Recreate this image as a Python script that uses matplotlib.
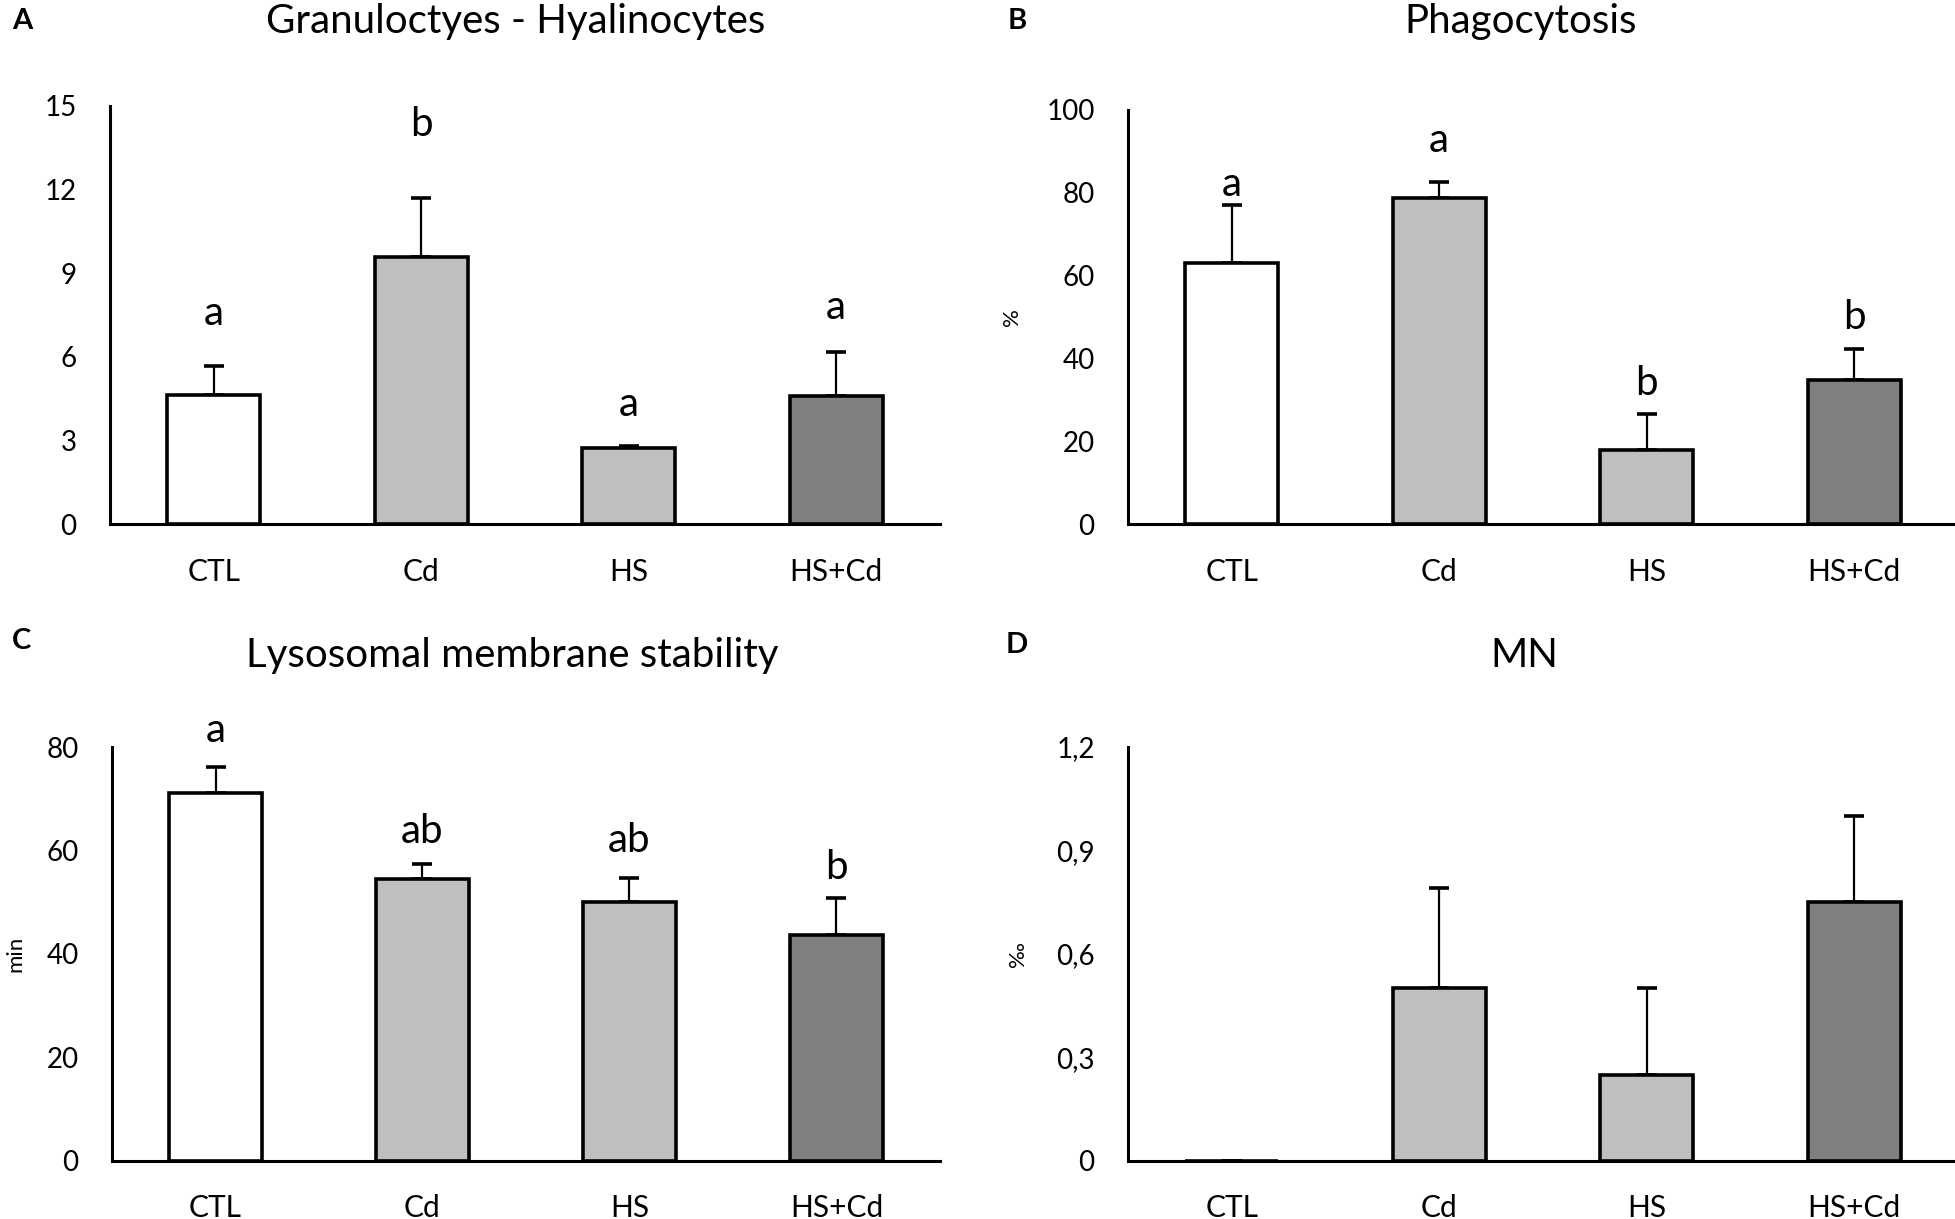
import numpy as np
import matplotlib
matplotlib.use('Agg')
import matplotlib.pyplot as plt
from matplotlib.ticker import FuncFormatter

plt.rcParams['font.family'] = ['Lato', 'DejaVu Sans']

groups = ['CTL', 'Cd', 'HS', 'HS+Cd']
colors = ['white', '#bfbfbf', '#bfbfbf', '#808080']

# A: granulocytes / hyalinocytes ratio
gh_mean = [4.63, 9.56, 2.73, 4.58]
gh_err = [1.02, 2.14, 0.07, 1.59]
gh_sig = ['a', 'b', 'a', 'a']
gh_sig_y = [7.15, 13.9, 3.86, 7.36]

# B: phagocytosis (%)
ph_mean = [62.9, 78.7, 17.8, 34.7]
ph_err = [14.0, 3.8, 8.7, 7.6]
ph_sig = ['a', 'a', 'b', 'b']
ph_sig_y = [79.2, 89.9, 31.2, 47.0]

# C: lysosomal membrane stability (min)
lms_mean = [71.2, 54.5, 50.0, 43.6]
lms_err = [5.0, 2.9, 4.6, 7.3]
lms_sig = ['a', 'ab', 'ab', 'b']
lms_sig_y = [80.9, 61.5, 59.8, 54.5]

# D: micronuclei (per mille)
mn_mean = [0.0, 0.50, 0.25, 0.75]
mn_err = [0.0, 0.29, 0.25, 0.25]


def draw_panel(ax, mean, err, ylim, yticks, ylabel=None, label_x=-0.13,
               sig=None, sig_y=None, fmt=None):
    x = np.arange(len(groups))
    ax.bar(x, mean, width=0.45, color=colors, edgecolor='black',
           linewidth=2.6, zorder=2)
    ax.errorbar(x, mean, yerr=[np.zeros(len(err)), err], fmt='none',
                ecolor='black', elinewidth=1.6, capsize=7, capthick=2.6,
                zorder=1)
    ax.set_xlim(-0.5, 3.5)
    ax.set_ylim(*ylim)
    ax.set_yticks(yticks)
    if fmt is not None:
        ax.yaxis.set_major_formatter(FuncFormatter(fmt))
    ax.set_xticks(x)
    ax.set_xticklabels(groups)
    ax.tick_params(axis='both', length=0)
    ax.tick_params(axis='y', pad=24, labelsize=20)
    ax.tick_params(axis='x', pad=24, labelsize=21.5)
    for s in ['top', 'right']:
        ax.spines[s].set_visible(False)
    for s in ['left', 'bottom']:
        ax.spines[s].set_linewidth(2.2)
    if ylabel:
        ax.set_ylabel(ylabel, fontsize=16)
        ax.yaxis.set_label_coords(label_x, 0.5)
    if sig is not None:
        for xi, s, yy in zip(x, sig, sig_y):
            ax.text(xi, yy, s, ha='center', va='baseline', fontsize=29,
                    clip_on=False)


fig = plt.figure(figsize=(19.55, 12.19), dpi=100)

ax1 = fig.add_axes([0.0563, 0.570, 0.4245, 0.3434])
ax2 = fig.add_axes([0.577, 0.570, 0.4245, 0.3400])
ax3 = fig.add_axes([0.0573, 0.0476, 0.4235, 0.3396])
ax4 = fig.add_axes([0.577, 0.0476, 0.4245, 0.3396])

draw_panel(ax1, gh_mean, gh_err, (0, 15), [0, 3, 6, 9, 12, 15],
           sig=gh_sig, sig_y=gh_sig_y)
draw_panel(ax2, ph_mean, ph_err, (0, 100), [0, 20, 40, 60, 80, 100],
           ylabel='%', label_x=-0.128, sig=ph_sig, sig_y=ph_sig_y)
draw_panel(ax3, lms_mean, lms_err, (0, 80), [0, 20, 40, 60, 80],
           ylabel='min', label_x=-0.105, sig=lms_sig, sig_y=lms_sig_y)
draw_panel(ax4, mn_mean, mn_err, (0, 1.2), [0, 0.3, 0.6, 0.9, 1.2],
           ylabel='‰', label_x=-0.12,
           fmt=lambda v, p: '0' if v == 0 else f'{v:.1f}'.replace('.', ','))

fig.text(0.264, 0.982, 'Granuloctyes - Hyalinocytes', ha='center', va='center', fontsize=29)
fig.text(0.778, 0.982, 'Phagocytosis', ha='center', va='center', fontsize=29)
fig.text(0.262, 0.462, 'Lysosomal membrane stability', ha='center', va='center', fontsize=29)
fig.text(0.7795, 0.462, 'MN', ha='center', va='center', fontsize=29)

fig.text(0.006, 0.983, 'A', ha='left', va='center', fontsize=21, fontweight='bold')
fig.text(0.5156, 0.983, 'B', ha='left', va='center', fontsize=21, fontweight='bold')
fig.text(0.006, 0.474, 'C', ha='left', va='center', fontsize=21, fontweight='bold')
fig.text(0.5146, 0.471, 'D', ha='left', va='center', fontsize=21, fontweight='bold')

plt.savefig('out.png', dpi=100)
